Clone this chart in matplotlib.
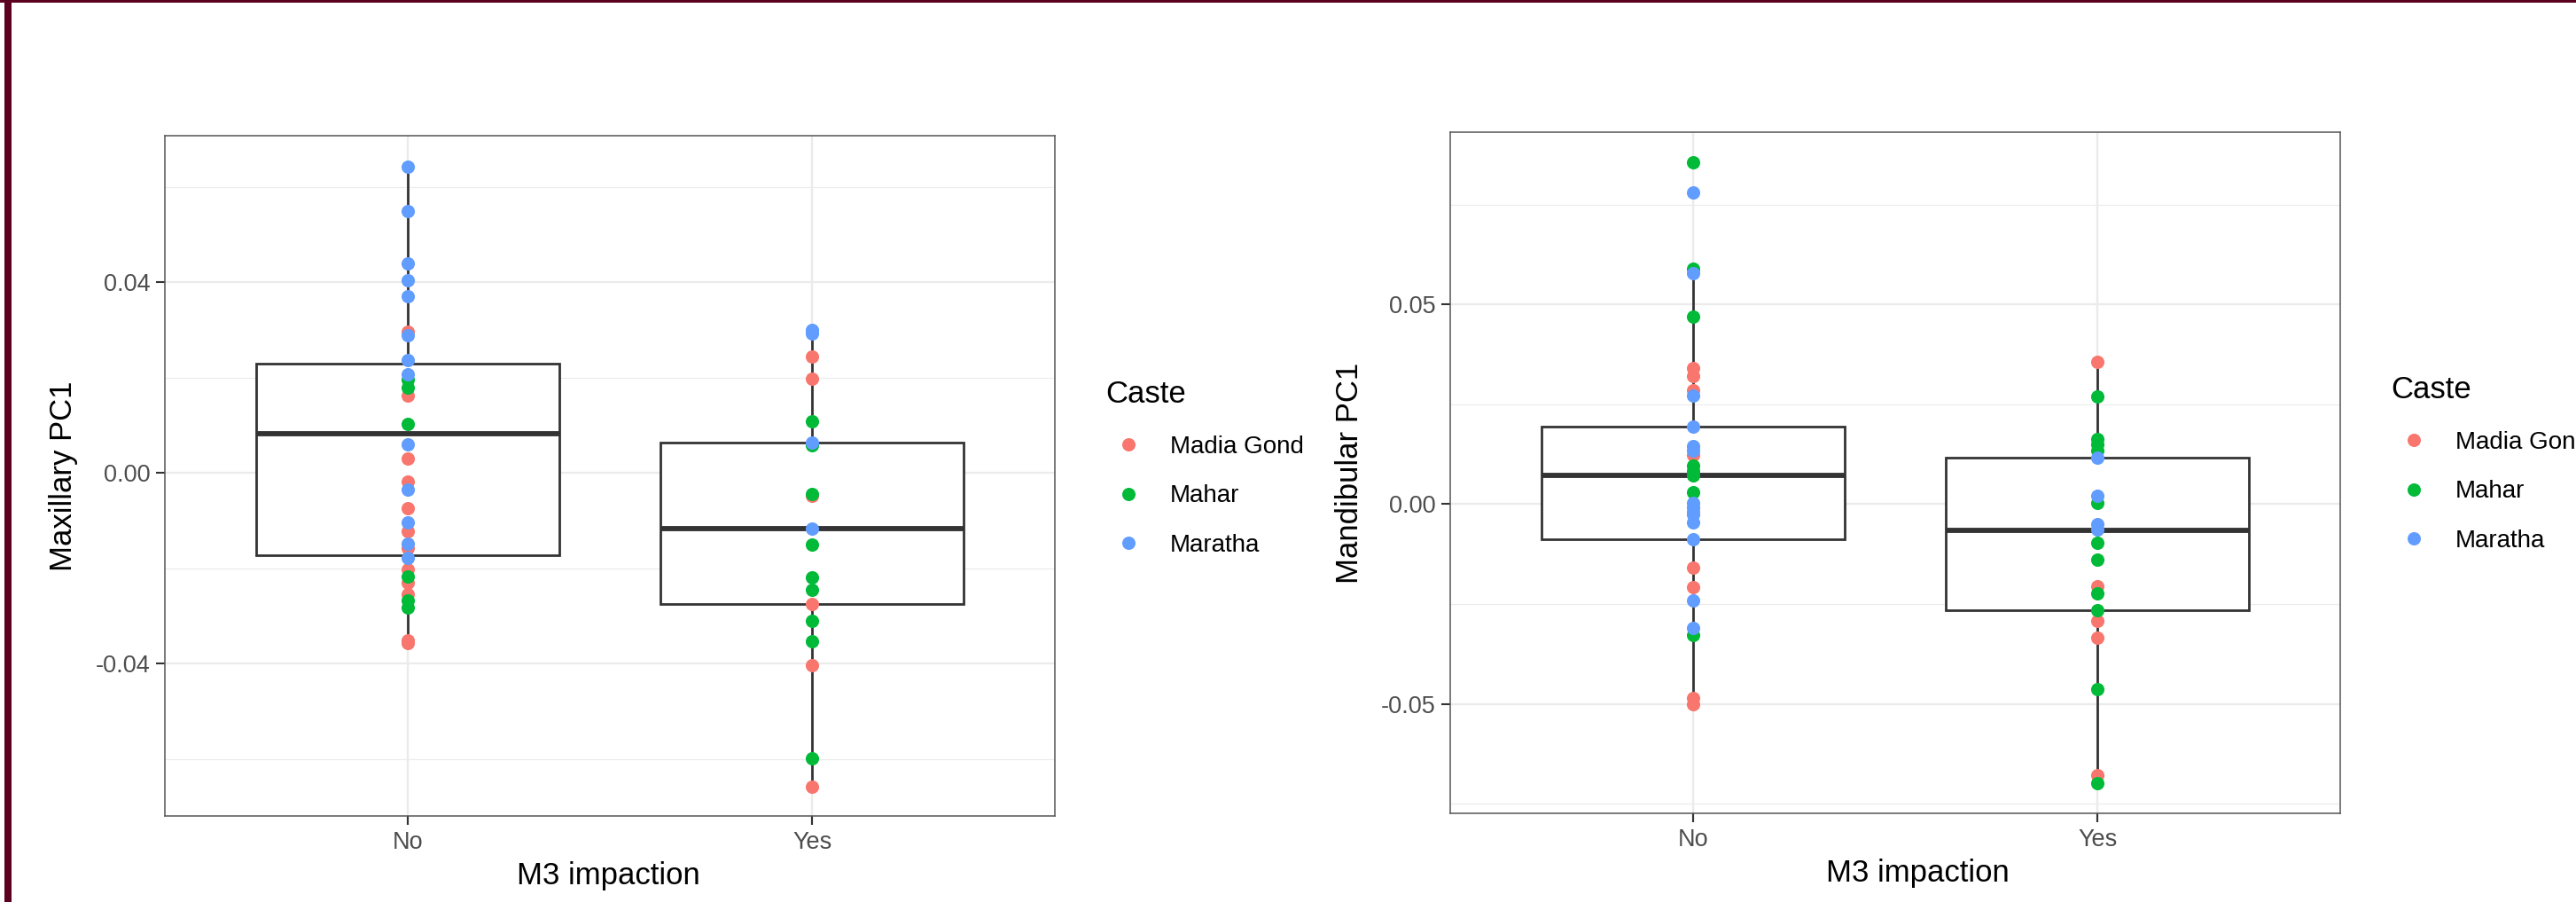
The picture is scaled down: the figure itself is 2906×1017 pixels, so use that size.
import matplotlib
matplotlib.use("Agg")
import matplotlib.pyplot as plt
from matplotlib.lines import Line2D
from matplotlib.patches import Rectangle

plt.rcParams['font.family'] = ['Liberation Sans', 'DejaVu Sans']

# ---------------- data ----------------
groups = ["No", "Yes"]
castes = ["Madia Gond", "Mahar", "Maratha"]
caste_colors = ["#F8766D", "#00BA38", "#619CFF"]

# Maxillary PC1 values by caste
max_no_madia = [0.0295, 0.0162, 0.0030, -0.0019, -0.0074, -0.0122, -0.0158, -0.0202,
                -0.0231, -0.0254, -0.0351, -0.0358]
max_no_mahar = [0.0195, 0.0179, 0.0102, -0.0218, -0.0267, -0.0283]
max_no_maratha = [0.0642, 0.0549, 0.0439, 0.0404, 0.0370, 0.0288, 0.0237, 0.0207,
                  0.0060, -0.0036, -0.0105, -0.0149, -0.0179]
max_yes_madia = [0.0244, 0.0198, -0.0048, -0.0275, -0.0403, -0.0659]
max_yes_mahar = [0.0108, 0.0057, -0.0044, -0.0151, -0.0219, -0.0246, -0.0310, -0.0353, -0.0599]
max_yes_maratha = [0.0300, 0.0292, 0.0063, -0.0117]

# Mandibular PC1 values by caste
man_no_madia = [0.0341, 0.0320, 0.0284, 0.0124, -0.0019, -0.0158, -0.0207, -0.0485, -0.0500]
man_no_mahar = [0.0856, 0.0590, 0.0470, 0.0096, 0.0084, 0.0072, 0.0030, -0.0328]
man_no_maratha = [0.0780, 0.0579, 0.0272, 0.0194, 0.0146, 0.0133, 0.0004, -0.0008,
                  -0.0026, -0.0046, -0.0088, -0.0242, -0.0310]
man_yes_madia = [0.0356, -0.0205, -0.0292, -0.0335, -0.0679]
man_yes_mahar = [0.0270, 0.0162, 0.0150, 0.0133, 0.0004, -0.0097, -0.0139, -0.0224,
                 -0.0265, -0.0463, -0.0699]
man_yes_maratha = [0.0117, 0.0020, -0.0050, -0.0063]

# box statistics: [whislo, q1, median, q3, whishi]
max_box_no = [-0.0358, -0.0173, 0.0082, 0.0229, 0.0642]
max_box_yes = [-0.0659, -0.0275, -0.0117, 0.0063, 0.0300]
man_box_no = [-0.0500, -0.0088, 0.0072, 0.0194, 0.0590]
man_box_yes = [-0.0699, -0.0265, -0.0065, 0.0116, 0.0356]

max_yticks = [-0.04, 0.00, 0.04]
max_yticklabels = ["-0.04", "0.00", "0.04"]
max_yminor = [-0.06, -0.02, 0.02, 0.06]
man_yticks = [-0.05, 0.00, 0.05]
man_yticklabels = ["-0.05", "0.00", "0.05"]
man_yminor = [-0.075, -0.025, 0.025, 0.075]

# ---------------- figure ----------------
W, H = 2906, 1017
fig = plt.figure(figsize=(W / 100, H / 100), dpi=100)

def fx(px):
    return px / W

def fy(py):
    return 1 - py / H

GRID = "#ebebeb"
DARK = "#333333"

def make_panel(rect, box_no, box_yes, pts_no, pts_yes, ylim, yticks, ytl, yminor,
               ylabel, ylabel_x, xlabel_x, legend_anchor):
    ax = fig.add_axes(rect)
    ax.set_xlim(0.4, 2.6)
    ax.set_ylim(*ylim)
    ax.set_axisbelow(True)
    # grid
    ax.set_yticks(yticks)
    ax.set_yticklabels(ytl)
    ax.set_yticks(yminor, minor=True)
    ax.set_xticks([1, 2])
    ax.set_xticklabels(groups)
    ax.grid(True, which='major', color=GRID, linewidth=1.6)
    ax.grid(True, which='minor', axis='y', color=GRID, linewidth=0.8)
    ax.tick_params(which='minor', length=0)
    ax.tick_params(which='major', length=7, width=1.5, color=DARK,
                   labelsize=19.5, labelcolor="#4d4d4d", pad=5)
    for sp in ax.spines.values():
        sp.set_color("#555555")
        sp.set_linewidth(1.1)
    # boxes
    stats = []
    for b, lab in zip([box_no, box_yes], groups):
        stats.append(dict(whislo=b[0], q1=b[1], med=b[2], q3=b[3], whishi=b[4],
                          fliers=[], label=lab))
    ax.bxp(stats, positions=[1, 2], widths=0.75, showcaps=False, showfliers=False,
           patch_artist=True,
           boxprops=dict(facecolor="white", edgecolor=DARK, linewidth=2.0),
           whiskerprops=dict(color=DARK, linewidth=2.0),
           medianprops=dict(color=DARK, linewidth=4.2, solid_capstyle='butt'),
           zorder=2)
    # points
    for ci, (c, col) in enumerate(zip(castes, caste_colors)):
        for xi, pts in zip([1, 2], [pts_no, pts_yes]):
            vals = pts[ci]
            ax.scatter([xi] * len(vals), vals, s=118, color=col, linewidths=0,
                       zorder=3, label=c if xi == 1 else None)
    ax.set_ylabel(ylabel, fontsize=25, color="black")
    ax.yaxis.set_label_coords(ylabel_x, 0.5)
    ax.set_xlabel("M3 impaction", fontsize=25, color="black")
    ax.xaxis.set_label_coords(xlabel_x, -0.066)
    handles = [Line2D([], [], marker='o', linestyle='none', markersize=10.8,
                      markerfacecolor=col, markeredgewidth=0) for col in caste_colors]
    leg = ax.legend(handles, castes, title="Caste", loc='upper left',
                    bbox_to_anchor=legend_anchor, bbox_transform=fig.transFigure,
                    frameon=False, fontsize=20, title_fontsize=25,
                    handlelength=1.9, handletextpad=0.72, labelspacing=1.07,
                    borderpad=0, borderaxespad=0)
    leg._legend_box.align = "left"
    return ax

# left panel axes: px x 186-1190, y 153-920
rect_left = [fx(186), fy(920), fx(1190) - fx(186), fy(153) - fy(920)]
rect_right = [fx(1636), fy(917), fx(2640) - fx(1636), fy(149) - fy(917)]

make_panel(rect_left, max_box_no, max_box_yes,
           [max_no_madia, max_no_mahar, max_no_maratha],
           [max_yes_madia, max_yes_mahar, max_yes_maratha],
           (-0.0720, 0.0707), max_yticks, max_yticklabels, max_yminor,
           "Maxillary PC1", -0.0976, 0.498, (fx(1247), fy(428)))

make_panel(rect_right, man_box_no, man_box_yes,
           [man_no_madia, man_no_mahar, man_no_maratha],
           [man_yes_madia, man_yes_mahar, man_yes_maratha],
           (-0.0774, 0.0931), man_yticks, man_yticklabels, man_yminor,
           "Mandibular PC1", -0.0966, 0.525, (fx(2697), fy(423)))

# dark red frame along left and top edges
frame_col = "#5c0020"
fig.add_artist(Rectangle((fx(5), 0), fx(8), 1, transform=fig.transFigure,
                         facecolor=frame_col, edgecolor='none', zorder=10))
fig.add_artist(Rectangle((0, fy(3)), 1, 3 / H, transform=fig.transFigure,
                         facecolor=frame_col, edgecolor='none', zorder=10))

fig.savefig("out.png", dpi=100, facecolor="white")
